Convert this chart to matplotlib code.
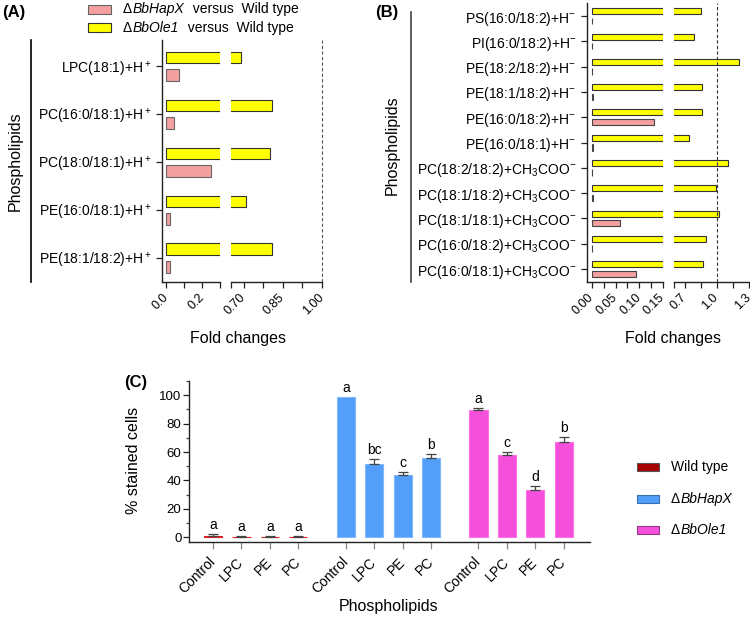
import numpy as np
import matplotlib
matplotlib.use('Agg')
import matplotlib.pyplot as plt
from matplotlib.lines import Line2D
from matplotlib.patches import Rectangle

plt.rcParams['font.family'] = ['Liberation Sans', 'DejaVu Sans']
plt.rcParams['mathtext.fontset'] = 'custom'
plt.rcParams['mathtext.rm'] = 'Liberation Sans'
plt.rcParams['mathtext.it'] = 'Liberation Sans:italic'
plt.rcParams['mathtext.bf'] = 'Liberation Sans:bold'

# Panel A data
a_labels = ['LPC(18:1)+H$^+$', 'PC(16:0/18:1)+H$^+$', 'PC(18:0/18:1)+H$^+$',
            'PE(16:0/18:1)+H$^+$', 'PE(18:1/18:2)+H$^+$']
a_ole1 = [0.69, 0.81, 0.80, 0.71, 0.81]
a_hapx = [0.07, 0.04, 0.25, 0.02, 0.02]

# Panel B data
b_labels = ['PS(16:0/18:2)+H$^{-}$', 'PI(16:0/18:2)+H$^{-}$', 'PE(18:2/18:2)+H$^{-}$',
            'PE(18:1/18:2)+H$^{-}$', 'PE(16:0/18:2)+H$^{-}$', 'PE(16:0/18:1)+H$^{-}$',
            'PC(18:2/18:2)+CH$_3$COO$^{-}$', 'PC(18:1/18:2)+CH$_3$COO$^{-}$',
            'PC(18:1/18:1)+CH$_3$COO$^{-}$', 'PC(16:0/18:2)+CH$_3$COO$^{-}$',
            'PC(16:0/18:1)+CH$_3$COO$^{-}$']
b_ole1 = [0.85, 0.79, 1.21, 0.86, 0.86, 0.74, 1.11, 0.99, 1.02, 0.90, 0.87]
b_hapx = [0.001, 0.001, 0.001, 0.003, 0.131, 0.003, 0.001, 0.002, 0.059, 0.001, 0.093]

# Panel C data
c_treat = ['Control', 'LPC', 'PE', 'PC']
c_strains = ['Wild type', 'BbHapX', 'BbOle1']   # mutants get a leading delta
wt_vals = [1.2, 0.4, 0.4, 0.4]
wt_err = [1.4, 0.3, 0.3, 0.3]
hapx_vals = [99.0, 51.5, 44.0, 55.8]
hapx_err = [0.0, 3.8, 2.3, 2.8]
ole1_vals = [89.9, 57.6, 33.4, 66.8]
ole1_err = [1.2, 2.4, 2.8, 3.5]
wt_letters = ['a', 'a', 'a', 'a']
hapx_letters = ['a', 'bc', 'c', 'b']
ole1_letters = ['a', 'c', 'd', 'b']

yellow = '#ffff00'
pink = '#f4a0a0'
c_colors = ['#a80000', '#529ef9', '#f550dc']
c_edges = ['#e02020', '#7fb9fc', '#ff72e6']

W, H = 750, 621
fig = plt.figure(figsize=(7.5, 6.21), dpi=100)
renderer = fig.canvas.get_renderer()


def px_axes(l, t, r, b):
    return fig.add_axes([l / W, 1 - b / H, (r - l) / W, (b - t) / H])


def fx(x):
    return x / W


def fy(y):
    return 1 - y / H


def pieces(x, y, parts, size=10):
    # write text pieces one after another (upright delta, italic name, plain rest)
    for txt, st in parts:
        t = fig.text(fx(x), fy(y), txt, fontsize=size, fontstyle=st, ha='left', va='center')
        x = t.get_window_extent(renderer).x1 + 0.5


def style(ax, left=True):
    ax.spines['top'].set_visible(False)
    ax.spines['right'].set_visible(False)
    ax.spines['left'].set_visible(left)
    for s in ax.spines.values():
        s.set_linewidth(1.0)
        s.set_color('#222222')
    ax.tick_params(direction='out', length=4, width=0.9, color='#222222')
    if not left:
        ax.tick_params(axis='y', left=False, labelleft=False)


# ---------- Panel A (broken axis) ----------
yA = np.arange(len(a_labels))
axA1 = px_axes(162, 40, 220.3, 282)
axA2 = px_axes(230.7, 40, 321.7, 282)
for ax in (axA1, axA2):
    ax.barh(yA - 0.185, a_ole1, height=0.24, color=yellow, edgecolor='#333333', lw=0.8)
    ax.barh(yA + 0.185, a_hapx, height=0.25, color=pink, edgecolor='#666666', lw=0.8)
    ax.set_ylim(4.5, -0.55)
style(axA1)
style(axA2, left=False)
axA1.set_xlim(-0.024, 0.3)
axA1.set_xticks([0, 0.1, 0.2, 0.3])
axA1.set_xticklabels(['0.0', '', '0.2', ''], rotation=45, ha='right', va='center',
                     rotation_mode='anchor', fontsize=9)
axA1.set_yticks(yA)
axA1.set_yticklabels(a_labels, fontsize=10)
axA2.set_xlim(0.65, 1.0)
axA2.set_xticks([0.65, 0.70, 0.775, 0.85, 0.925, 1.0])
axA2.set_xticklabels(['', '0.70', '', '0.85', '', '1.00'], rotation=45, ha='right',
                     va='center', rotation_mode='anchor', fontsize=9)
axA2.axvline(1.0, ls=(0, (3, 2)), color='#555555', lw=0.8, clip_on=False)
for ax in (axA1, axA2):
    ax.tick_params(axis='x', pad=6)

# legend for panel A
fig.add_artist(Rectangle((fx(88), fy(13.5)), 23 / W, 9 / H, transform=fig.transFigure,
                         facecolor=pink, edgecolor='#666666', lw=0.8))
fig.add_artist(Rectangle((fx(88), fy(32)), 23 / W, 9 / H, transform=fig.transFigure,
                         facecolor=yellow, edgecolor='#333333', lw=0.8))
pieces(123, 9, [('\u0394', 'normal'), ('BbHapX', 'italic'), ('  versus  Wild type', 'normal')])
pieces(123, 28, [('\u0394', 'normal'), ('BbOle1', 'italic'), ('  versus  Wild type', 'normal')])

fig.add_artist(Line2D([fx(31), fx(31)], [fy(40), fy(282)], transform=fig.transFigure,
                      color='black', lw=1.2))
fig.text(fx(15), fy(161), 'Phospholipids', rotation=90, fontsize=11.5, ha='center', va='center')
fig.text(fx(238), fy(338), 'Fold changes', fontsize=11.5, ha='center', va='center')
fig.text(fx(2), fy(12), '(A)', fontsize=12, fontweight='bold', ha='left', va='center')

# ---------- Panel B (broken axis) ----------
yB = np.arange(len(b_labels))
axB1 = px_axes(587, 3.4, 662.7, 281.7)
axB2 = px_axes(674, 3.4, 748.7, 281.7)
for ax in (axB1, axB2):
    ax.barh(yB - 0.19, b_ole1, height=0.24, color=yellow, edgecolor='#333333', lw=0.8)
    ax.barh(yB + 0.19, b_hapx, height=0.25, color=pink, edgecolor='#444444', lw=0.8)
    ax.set_ylim(10.5, -0.5)
style(axB1)
style(axB2, left=False)
axB1.set_xlim(-0.0106, 0.15)
axB1.set_xticks([0, 0.025, 0.05, 0.075, 0.10, 0.125, 0.15])
axB1.set_xticklabels(['0.00', '', '0.05', '', '0.10', '', '0.15'], rotation=45, ha='right',
                     va='center', rotation_mode='anchor', fontsize=9)
axB1.set_yticks(yB)
axB1.set_yticklabels(b_labels, fontsize=10)
axB2.set_xlim(0.6, 1.3)
axB2.set_xticks([0.6, 0.7, 0.85, 1.0, 1.15, 1.3])
axB2.set_xticklabels(['', '0.7', '', '1.0', '', '1.3'], rotation=45, ha='right',
                     va='center', rotation_mode='anchor', fontsize=9)
axB2.axvline(1.0, ls=(0, (3, 2)), color='#333333', lw=0.8)
for ax in (axB1, axB2):
    ax.tick_params(axis='x', pad=6)

fig.add_artist(Line2D([fx(411), fx(411)], [fy(12), fy(282)], transform=fig.transFigure,
                      color='#444444', lw=1.2))
fig.text(fx(392), fy(145), 'Phospholipids', rotation=90, fontsize=11.5, ha='center', va='center')
fig.text(fx(673), fy(338), 'Fold changes', fontsize=11.5, ha='center', va='center')
fig.text(fx(375), fy(12), '(B)', fontsize=12, fontweight='bold', ha='left', va='center')

# ---------- Panel C ----------
axC = px_axes(188.5, 381, 590, 541.7)
offsets = [0, 4.67, 9.33]
groups = [(wt_vals, wt_err, wt_letters), (hapx_vals, hapx_err, hapx_letters),
          (ole1_vals, ole1_err, ole1_letters)]
all_pos = []
for k, (vals, err, letters) in enumerate(groups):
    pos = offsets[k] + np.arange(len(c_treat))
    all_pos.extend(pos)
    axC.bar(pos, vals, width=0.64, color=c_colors[k], edgecolor=c_edges[k], lw=0.8)
    has = np.array(err) > 0
    axC.errorbar(pos[has], np.array(vals)[has], yerr=[np.zeros(has.sum()), np.array(err)[has]],
                 fmt='none', ecolor='#444444', elinewidth=0.9, capsize=3.5, capthick=0.9)
    for p, v, e, t in zip(pos, vals, err, letters):
        axC.text(p, v + e + 3.5, t, ha='center', va='baseline', fontsize=10)
style(axC)
axC.set_xlim(-0.86, 13.25)
axC.set_ylim(-3.1, 110)
axC.spines['left'].set_bounds(-3.1, 110)
axC.set_yticks([0, 20, 40, 60, 80, 100])
axC.set_yticks([10, 30, 50, 70, 90, 110], minor=True)
axC.tick_params(axis='y', which='minor', length=2.5, width=0.9, color='#444444')
axC.tick_params(axis='y', labelsize=9.5, pad=1)
axC.set_xticks(all_pos)
axC.set_xticklabels(c_treat * 3, rotation=45, ha='right', va='center',
                    rotation_mode='anchor', fontsize=10)
axC.tick_params(axis='x', pad=8, length=5, color='#888888')

fig.text(fx(133), fy(460), '% stained cells', rotation=90, fontsize=11.5, ha='center', va='center')
fig.text(fx(389), fy(606), 'Phospholipids', fontsize=11.5, ha='center', va='center')
fig.text(fx(124), fy(383), '(C)', fontsize=12, fontweight='bold', ha='left', va='center')

# legend for panel C
leg_y = [467, 499, 530]
leg_edges = ['#555555', '#3a6fb0', '#8a3a80']
for k in range(3):
    fig.add_artist(Rectangle((fx(637), fy(leg_y[k] + 4.3)), 22 / W, 8.6 / H,
                             transform=fig.transFigure, facecolor=c_colors[k],
                             edgecolor=leg_edges[k], lw=0.8))
    if k == 0:
        pieces(671, leg_y[k], [(c_strains[k], 'normal')])
    else:
        pieces(671, leg_y[k], [('\u0394', 'normal'), (c_strains[k], 'italic')])

fig.savefig('out.png', dpi=100)
